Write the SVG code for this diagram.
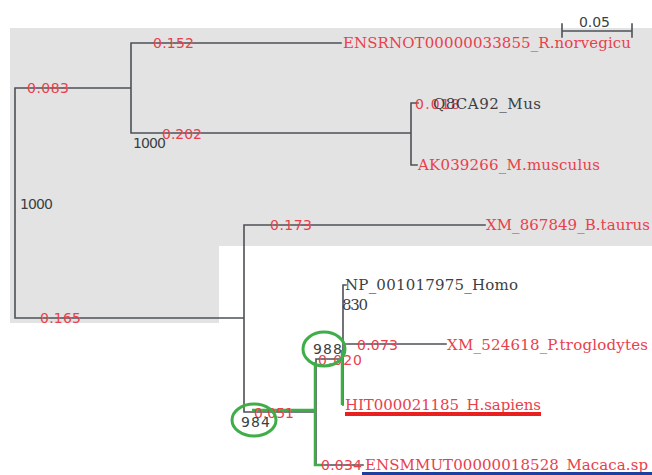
<svg xmlns="http://www.w3.org/2000/svg" width="652" height="475" viewBox="0 0 652 475">
<style>
.ln{stroke:#4d5257;stroke-width:1.6;fill:none;stroke-linecap:square}
.gr{stroke:#3fae49;stroke-width:2.5;fill:none}
.el{stroke:#3fae49;stroke-width:3;fill:none}
.leaf{font-family:"DejaVu Serif",serif;font-size:15px}
.num{font-family:"DejaVu Sans",sans-serif;font-size:14px}
.red{fill:#e9404c}
.dk{fill:#3a3f44}
</style>
<rect x="0" y="0" width="652" height="475" fill="#ffffff"/>
<polygon points="10,28 652,28 652,246 219,246 219,323 10,323" fill="#e3e3e3"/>
<g id="connectors">
<path class="ln" d="M15,88 V318 M15,88 H131 M131,43 V133 M131,43 H341 M131,133 H411 M411,103 V165 M411,103 H418 M411,165 H417 M15,318 H244 M244,225 V412 M244,225 H485 M244,412 H316 M316,359 V465 M316,465 H363 M316,359 H342 M343,285 V405 M343,285 H346 M343,344 H446"/>
<path class="gr" d="M252,410 H315 M315,362 V465 H322 M342,350 V405"/>
</g>
<g id="scale">
<path class="ln" d="M562,31 H632 M562,24 V37 M632,24 V37"/>
<text class="num dk" x="579" y="27" textLength="31">0.05</text>
</g>
<g id="n_rat"><text class="leaf red" x="343" y="48" textLength="288">ENSRNOT00000033855_R.norvegicu</text></g>
<g id="n_mus"><text class="num red" x="415" y="109" textLength="45">0.018</text><text class="leaf dk" x="433" y="109" textLength="108">Q8CA92_Mus</text></g>
<g id="n_mmus"><text class="leaf red" x="418" y="170" textLength="182">AK039266_M.musculus</text></g>
<g id="n_bt"><text class="leaf red" x="486" y="230" textLength="164">XM_867849_B.taurus</text></g>
<g id="n_homo"><text class="leaf dk" x="345" y="290" textLength="173">NP_001017975_Homo</text></g>
<g id="n_830"><text class="leaf dk" x="342" y="310" textLength="26">830</text></g>
<g id="n_pt"><text class="leaf red" x="447" y="350" textLength="201">XM_524618_P.troglodytes</text></g>
<g id="n_hs"><text class="leaf red" x="345" y="410" textLength="196">HIT000021185_H.sapiens</text><rect x="345" y="412" width="196" height="4" fill="#e82020"/></g>
<g id="n_mac"><text class="leaf red" x="365" y="470" textLength="283">ENSMMUT00000018528_Macaca.sp</text><rect x="362" y="472" width="290" height="3" fill="#1f3f9f"/></g>
<g id="labels">
<text class="num red" x="153" y="48" textLength="41">0.152</text>
<text class="num red" x="27" y="93" textLength="42">0.083</text>
<text class="num red" x="162" y="139" textLength="40">0.202</text>
<text class="num dk" x="133" y="148" textLength="33">1000</text>
<text class="num dk" x="20" y="209" textLength="33">1000</text>
<text class="num red" x="270" y="230" textLength="42">0.173</text>
<text class="num red" x="40" y="323" textLength="41">0.165</text>
<text class="num red" x="254" y="418" textLength="40">0.051</text>
<text class="num red" x="318" y="365" textLength="44">0.020</text>
<text class="num red" x="357" y="350" textLength="41">0.073</text>
<text class="num red" x="321" y="470" textLength="41">0.034</text>
</g>
<g id="n_984"><text class="num dk" x="241" y="427" textLength="29">984</text><ellipse class="el" cx="254" cy="420" rx="22" ry="16"/></g>
<g id="n_988"><text class="num dk" x="313" y="354" textLength="29">988</text><ellipse class="el" cx="324" cy="349" rx="21" ry="17"/></g>
</svg>
